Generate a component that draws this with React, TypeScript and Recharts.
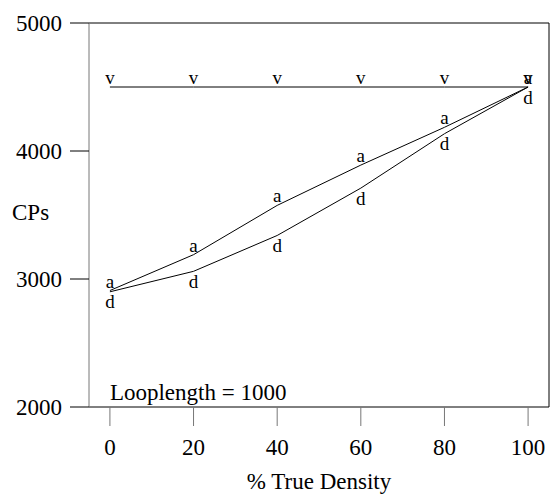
import {
  LineChart,
  Line,
  XAxis,
  YAxis,
  ReferenceLine,
  ReferenceDot,
} from 'recharts';

const densities = [0, 20, 40, 60, 80, 100];
const vValues = [4500, 4500, 4500, 4500, 4500, 4500];
const aValues = [2910, 3190, 3575, 3890, 4185, 4500];
const dValues = [2900, 3060, 3340, 3710, 4135, 4500];
const xTicks = [0, 20, 40, 60, 80, 100];
const yTicks = [2000, 3000, 4000, 5000];

const chartData = densities.map((x, i) => ({
  x,
  v: vValues[i],
  a: aValues[i],
  d: dValues[i],
}));

const serif = '"Liberation Serif", "Times New Roman", serif';

// letter markers: "a"/"v" sit on top of the point, "d" hangs below it
const letterDot = (letter: string, below: boolean) => (props: any) => {
  const { cx, cy, index } = props;
  if (cx == null || cy == null) return null;
  return (
    <text
      key={`${letter}-${index}`}
      x={cx}
      y={below ? cy + 16.5 : cy - 3}
      textAnchor="middle"
      fontFamily={serif}
      fontSize={19}
      fill="#000"
    >
      {letter}
    </text>
  );
};

export default function App() {
  return (
    <div style={{ position: 'absolute', left: 0, top: 0 }}>
      <LineChart
        width={550}
        height={495}
        data={chartData}
        margin={{ top: 23, right: 1, left: 0, bottom: 0 }}
      >
        <XAxis
          dataKey="x"
          type="number"
          domain={[-5, 105]}
          ticks={xTicks}
          height={88}
          tickSize={19}
          tickMargin={13}
          axisLine={{ stroke: '#000' }}
          tickLine={{ stroke: '#777' }}
          tick={{ fill: '#000', fontSize: 23, fontFamily: serif }}
          label={{
            content: () => (
              <text
                x={319}
                y={489}
                textAnchor="middle"
                fontFamily={serif}
                fontSize={23}
                fill="#000"
              >
                % True Density
              </text>
            ),
          }}
        />
        <YAxis
          type="number"
          domain={[2000, 5000]}
          ticks={yTicks}
          width={89}
          tickSize={19}
          tickMargin={8}
          axisLine={{ stroke: '#777' }}
          tickLine={{ stroke: '#000' }}
          tick={{ fill: '#000', fontSize: 23, fontFamily: serif }}
          label={{
            content: () => (
              <text
                x={12}
                y={220}
                fontFamily={serif}
                fontSize={23}
                fill="#000"
              >
                CPs
              </text>
            ),
          }}
        />
        <ReferenceLine y={5000} stroke="#000" />
        <ReferenceLine x={105} stroke="#000" />
        <ReferenceDot
          x={0}
          y={2000}
          r={0}
          label={{
            content: (p: any) => (
              <text
                x={p.viewBox?.x ?? 110}
                y={400}
                fontFamily={serif}
                fontSize={23}
                fill="#000"
              >
                Looplength = 1000
              </text>
            ),
          }}
        />
        <Line
          dataKey="v"
          stroke="#000"
          strokeWidth={1}
          dot={letterDot('v', false)}
          activeDot={false}
          isAnimationActive={false}
        />
        <Line
          dataKey="a"
          type="linear"
          stroke="#000"
          strokeWidth={1}
          dot={letterDot('a', false)}
          activeDot={false}
          isAnimationActive={false}
        />
        <Line
          dataKey="d"
          type="linear"
          stroke="#000"
          strokeWidth={1}
          dot={letterDot('d', true)}
          activeDot={false}
          isAnimationActive={false}
        />
      </LineChart>
    </div>
  );
}
